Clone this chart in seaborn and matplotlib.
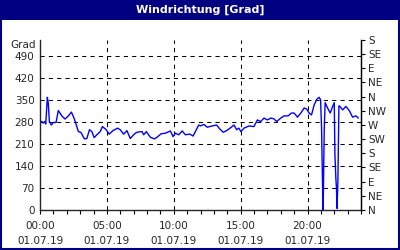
import matplotlib
matplotlib.use("Agg")
import matplotlib.pyplot as plt
from matplotlib.patches import Rectangle
from matplotlib.ticker import MultipleLocator
import seaborn as sns
import pandas as pd

hours = [0.0, 0.13, 0.25, 0.35, 0.43, 0.55, 0.62, 0.70, 0.85, 1.0, 1.2, 1.37, 1.63, 1.87,
         2.12, 2.35, 2.57, 2.75, 2.87, 3.05, 3.32, 3.5, 3.7, 3.88, 4.05, 4.25, 4.5, 4.67,
         4.95, 5.17, 5.45, 5.8, 6.0, 6.25, 6.5, 6.75, 7.0, 7.2, 7.37, 7.63, 7.75, 7.95,
         8.25, 8.55, 8.75, 9.05, 9.37, 9.75, 9.95, 10.12, 10.37, 10.63, 10.87, 11.2,
         11.45, 11.65, 11.87, 12.0, 12.25, 12.5, 12.88, 13.2, 13.45, 13.7, 13.95, 14.3,
         14.5, 14.7, 14.87, 15.02, 15.25, 15.62, 16.0, 16.25, 16.5, 16.75, 17.0, 17.25,
         17.47, 17.7, 18.0, 18.25, 18.55, 18.8, 19.0, 19.25, 19.5, 19.75, 19.95, 20.12,
         20.3, 20.5, 20.7, 20.87, 20.98, 21.05, 21.12, 21.17, 21.25, 21.32, 21.5, 21.7,
         21.88, 22.0, 22.05, 22.12, 22.17, 22.21, 22.27, 22.35, 22.42, 22.63, 22.87,
         23.12, 23.37, 23.62, 23.8]
grad = [281, 281, 276, 281, 273, 358, 339, 281, 270, 278, 278, 316, 299, 289,
        299, 311, 289, 265, 249, 247, 226, 227, 255, 249, 230, 239, 249, 265,
        255, 241, 252, 260, 255, 241, 252, 227, 239, 246, 248, 249, 239, 249,
        231, 226, 231, 242, 244, 251, 233, 244, 239, 251, 239, 241,
        235, 252, 270, 267, 272, 263, 267, 270, 257, 247, 252, 263,
        270, 255, 260, 249, 260, 267, 265, 286, 281, 292, 286, 292,
        290, 281, 292, 299, 299, 308, 308, 295, 308, 324, 320, 308,
        302, 334, 352, 358, 350, 262, 90, 0, 255, 341, 324, 308,
        329, 341, 175, 101, 66, 5, 87, 331, 329, 318, 329,
        316, 295, 299, 292]

left_ticks = [0, 70, 140, 210, 280, 350, 420, 490]
right_ticks = [0, 45, 90, 135, 180, 225, 270, 315, 360, 405, 450, 495, 540]
right_labels = ["N", "NE", "E", "SE", "S", "SW", "W", "NW", "N", "NE", "E", "SE", "S"]
x_major = [0, 5, 10, 15, 20]
x_labels = ["00:00\n01.07.19", "05:00\n01.07.19", "10:00\n01.07.19",
            "15:00\n01.07.19", "20:00\n01.07.19"]

sns.set_style("white")
plt.rcParams['font.family'] = ['DejaVu Sans']

navy = "#000080"
fig = plt.figure(figsize=(4, 2.5), dpi=100)
fig.patch.set_facecolor("white")

ax = fig.add_axes([40/400, 1-210/250, 321/400, 170/250])
df = pd.DataFrame({"h": hours, "v": grad})
sns.lineplot(data=df, x="h", y="v", ax=ax, color="#0000ff", linewidth=1.0,
             estimator=None, sort=False)
ax.set_xlim(0, 24)
ax.set_ylim(0, 540)
ax.set_xlabel("")
ax.set_ylabel("")
ax.set_yticks(left_ticks)
ax.set_yticklabels([str(t) for t in left_ticks], fontsize=7.5)
ax.set_xticks(x_major)
ax.set_xticklabels(x_labels, fontsize=7.5, linespacing=1.65)
ax.xaxis.set_minor_locator(MultipleLocator(1))
ax.tick_params(axis="x", which="both", direction="out", length=3, width=0.8,
               color="black", pad=5, bottom=True)
ax.tick_params(axis="y", which="both", length=0, pad=4)
ax.grid(True, color="black", linestyle=(0, (4, 4)), linewidth=0.75)
for s in ["left", "bottom", "right"]:
    ax.spines[s].set_color("black")
    ax.spines[s].set_linewidth(0.9)
ax.spines["top"].set_visible(False)

ax2 = ax.twinx()
ax2.set_ylim(0, 540)
ax2.set_yticks(right_ticks)
ax2.set_yticklabels(right_labels, fontsize=7.5)
ax2.tick_params(axis="y", direction="out", length=3, width=0.8, color="black", pad=2)
ax2.spines["top"].set_visible(False)
ax2.spines["right"].set_color("black")
ax2.spines["right"].set_linewidth(0.9)
ax2.grid(False)

fig.text(36/400, 1-45/250, "Grad", ha="right", va="center", fontsize=7.5)

# title bar and border
fig.patches.append(Rectangle((0, 1-20/250), 1, 20/250, transform=fig.transFigure,
                             facecolor=navy, edgecolor="none", zorder=0))
fig.patches.append(Rectangle((0.0025, 0.004), 0.995, 0.99, transform=fig.transFigure,
                             facecolor="none", edgecolor=navy, linewidth=1.5, zorder=5))
fig.text(0.5, 1-10/250, "Windrichtung [Grad]", ha="center", va="center",
         color="white", fontsize=8, fontweight="bold")

fig.savefig("out.png", dpi=100)
